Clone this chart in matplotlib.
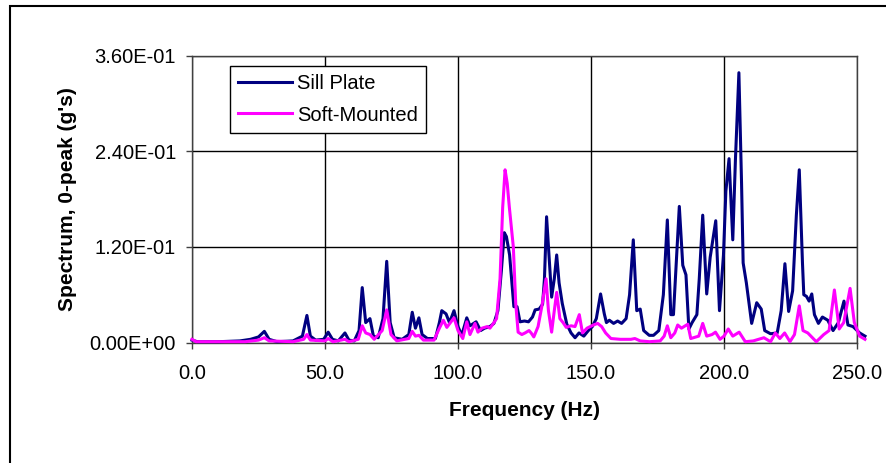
"""Sill Plate vs Soft-Mounted vibration spectrum (0-peak, g's) — redraw of the Excel chart."""

import matplotlib
matplotlib.use("Agg")
import matplotlib.pyplot as plt
from matplotlib.patches import Rectangle

plt.rcParams["font.family"] = ["Liberation Sans", "DejaVu Sans"]

# Sill Plate (blue) — frequency (Hz) / amplitude (g)
sill_freq = [
    0, 2, 10, 18, 22, 25, 27.2, 29, 32, 38, 41.5, 43.2, 44.5, 46.5, 49.5, 51.2, 52.8, 55,
    57.5, 59, 61, 62.8, 64.0, 65.3, 66.9, 68.2, 70, 71.8, 73.2, 74.5, 76, 79, 81.5, 82.8,
    84, 85.3, 86.5, 88.5, 91.5, 93, 93.9, 95.5, 96.8, 98.5, 100, 101.4, 103.3, 104.5,
    106.8, 108.5, 110, 112, 113.5, 115, 116.3, 117.4, 118.2, 119.4, 120.3, 121, 122.2,
    123.3, 125, 126.5, 128, 129, 130.5, 131.8, 132.5, 133.3, 134.2, 135.2, 136.2, 137.1,
    138, 139.2, 140.9, 142.5, 144, 145.5, 147.3, 149, 150.5, 152, 153.6, 155, 155.8,
    156.9, 158.5, 160, 161.5, 163.2, 164.5, 165.9, 167.2, 168.5, 169.8, 171.9, 173.5,
    175.5, 177.2, 178.7, 180, 181, 183.2, 184.5, 185.7, 186.8, 188, 189.8, 190.7, 192.0,
    193.5, 194.8, 196.9, 198.3, 199.8, 200.7, 201.9, 203.3, 204.3, 205.6, 206.6, 207.2,
    208.4, 210.4, 212.3, 214, 215.3, 217.5, 220, 221.5, 222.9, 224.3, 225.8, 227.2,
    228.3, 229.5, 230, 231, 232, 233, 234, 235.5, 237, 239, 241, 243, 245.1, 246.6,
    248.5, 251, 253,
]
sill_amp = [
    0.003, 0.001, 0.001, 0.002, 0.004, 0.007, 0.014, 0.004, 0.001, 0.002, 0.008, 0.034,
    0.008, 0.003, 0.004, 0.013, 0.004, 0.002, 0.012, 0.003, 0.002, 0.015, 0.069, 0.025,
    0.030, 0.008, 0.006, 0.030, 0.102, 0.025, 0.006, 0.004, 0.010, 0.038, 0.018, 0.031,
    0.010, 0.005, 0.005, 0.025, 0.040, 0.036, 0.025, 0.040, 0.020, 0.009, 0.031, 0.021,
    0.026, 0.015, 0.018, 0.020, 0.024, 0.040, 0.090, 0.138, 0.133, 0.110, 0.074, 0.045,
    0.045, 0.026, 0.027, 0.026, 0.032, 0.041, 0.042, 0.048, 0.080, 0.158, 0.110, 0.057,
    0.080, 0.110, 0.075, 0.049, 0.023, 0.012, 0.006, 0.012, 0.008, 0.015, 0.020, 0.030,
    0.061, 0.036, 0.025, 0.028, 0.024, 0.027, 0.024, 0.030, 0.060, 0.129, 0.040, 0.042,
    0.015, 0.009, 0.009, 0.015, 0.060, 0.154, 0.035, 0.035, 0.171, 0.097, 0.085, 0.017,
    0.025, 0.035, 0.080, 0.160, 0.061, 0.107, 0.153, 0.040, 0.110, 0.190, 0.231, 0.129,
    0.230, 0.339, 0.200, 0.100, 0.075, 0.024, 0.050, 0.042, 0.015, 0.011, 0.012, 0.040,
    0.099, 0.039, 0.065, 0.160, 0.217, 0.100, 0.060, 0.058, 0.052, 0.061, 0.035, 0.024,
    0.032, 0.028, 0.015, 0.025, 0.052, 0.022, 0.020, 0.012, 0.008,
]

# Soft-Mounted (magenta)
soft_freq = [
    0, 1.5, 20, 25, 27.2, 29, 38, 42, 43.2, 44.5, 50, 51.2, 53, 57.5, 59, 62.5, 64, 65.3,
    66.9, 68.5, 71.5, 73.2, 74.8, 77, 81.5, 82.8, 84, 85.3, 87, 91, 93, 94.5, 95.8, 98.5,
    100, 101.8, 103.3, 104.5, 106.4, 107.5, 109, 111, 112, 113.3, 114.5, 115.8, 116.8,
    117.7, 118.5, 119.3, 120.8, 121.7, 122.6, 124, 125.2, 126.7, 127.5, 128.5, 130.1,
    131.5, 133.1, 134, 135.2, 136.2, 137.1, 138.3, 139.5, 140.7, 142.5, 144, 145.6, 146.8,
    148.5, 150.9, 152.5, 154, 155.5, 157.5, 161, 165, 166.5, 168.5, 172, 176, 177.5,
    178.7, 180, 181.5, 182.6, 184, 186.4, 187.5, 190.5, 192, 193.5, 195.5, 196.8, 198.5,
    200, 201.6, 203.3, 205.7, 208, 211, 215, 217.5, 219.3, 221, 222.8, 224.8, 226.5,
    228.3, 229.7, 231.5, 234.7, 237.5, 239.5, 241.5, 243.3, 245, 247.4, 249, 251, 253,
]
soft_amp = [
    0.004, 0.001, 0.001, 0.003, 0.006, 0.002, 0.001, 0.004, 0.010, 0.003, 0.002, 0.005,
    0.001, 0.004, 0.001, 0.004, 0.021, 0.012, 0.010, 0.004, 0.015, 0.041, 0.010, 0.002,
    0.005, 0.014, 0.008, 0.009, 0.003, 0.003, 0.018, 0.028, 0.019, 0.031, 0.015, 0.005,
    0.026, 0.010, 0.024, 0.013, 0.018, 0.020, 0.018, 0.024, 0.030, 0.080, 0.170, 0.217,
    0.200, 0.170, 0.120, 0.049, 0.013, 0.010, 0.012, 0.015, 0.012, 0.007, 0.020, 0.045,
    0.080, 0.040, 0.013, 0.040, 0.063, 0.030, 0.025, 0.019, 0.021, 0.020, 0.035, 0.012,
    0.018, 0.022, 0.024, 0.020, 0.012, 0.005, 0.004, 0.004, 0.005, 0.002, 0.001, 0.002,
    0.008, 0.021, 0.006, 0.012, 0.022, 0.018, 0.023, 0.005, 0.008, 0.024, 0.008, 0.010,
    0.013, 0.004, 0.008, 0.017, 0.008, 0.013, 0.001, 0.002, 0.006, 0.001, 0.012, 0.005,
    0.012, 0.001, 0.010, 0.046, 0.015, 0.012, 0.001, 0.010, 0.015, 0.066, 0.017, 0.025,
    0.068, 0.025, 0.008, 0.004,
]

x_ticks = [0, 50, 100, 150, 200, 250]
y_ticks = [0.0, 0.12, 0.24, 0.36]


def plot() -> None:
    fig = plt.figure(figsize=(8.86, 4.63), dpi=100)
    ax = fig.add_axes([192 / 886, 1 - 342.5 / 463, 665 / 886, 286.5 / 463])

    ax.plot(sill_freq, sill_amp, color="#000080", lw=2.2, label="Sill Plate", clip_on=False, zorder=3)
    ax.plot(soft_freq, soft_amp, color="#FF00FF", lw=2.2, label="Soft-Mounted", clip_on=False, zorder=4)

    ax.set_xlim(0, 250)
    ax.set_ylim(0, 0.36)
    ax.set_xticks(x_ticks)
    ax.set_xticklabels([f"{v:.1f}" for v in x_ticks])
    ax.set_yticks(y_ticks)
    ax.set_yticklabels([f"{v:.2E}" for v in y_ticks])
    ax.tick_params(axis="both", direction="out", length=4.5, width=1, labelsize=14.5, color="#404040")
    ax.tick_params(axis="x", pad=11)
    ax.tick_params(axis="y", pad=7)
    ax.grid(True, color="black", lw=1.0)
    for s in ax.spines.values():
        s.set_color("#404040")
        s.set_linewidth(1.0)

    ax.set_xlabel("Frequency (Hz)", fontsize=15, fontweight="bold", labelpad=13)
    ax.set_ylabel("Spectrum, 0-peak (g's)", fontsize=15, fontweight="bold", labelpad=9)

    leg = ax.legend(
        loc="upper left", bbox_to_anchor=(38 / 665, 1 - 10 / 286.5), borderaxespad=0,
        fontsize=14.5, handlelength=2.7, handletextpad=0.25, labelspacing=0.62,
        borderpad=0.4, fancybox=False, framealpha=1,
    )
    leg.get_frame().set_edgecolor("black")
    leg.get_frame().set_linewidth(1.0)
    for ln in leg.get_lines():
        ln.set_linewidth(2.2)

    # chart-area frame from the original worksheet
    fig.patches.append(Rectangle((10 / 886, -0.5), 1.5, 1.5 - 6 / 463, transform=fig.transFigure,
                                 fill=False, edgecolor="black", lw=1.5))

    fig.savefig("out.png", dpi=100)
    plt.close(fig)


if __name__ == "__main__":
    plot()
